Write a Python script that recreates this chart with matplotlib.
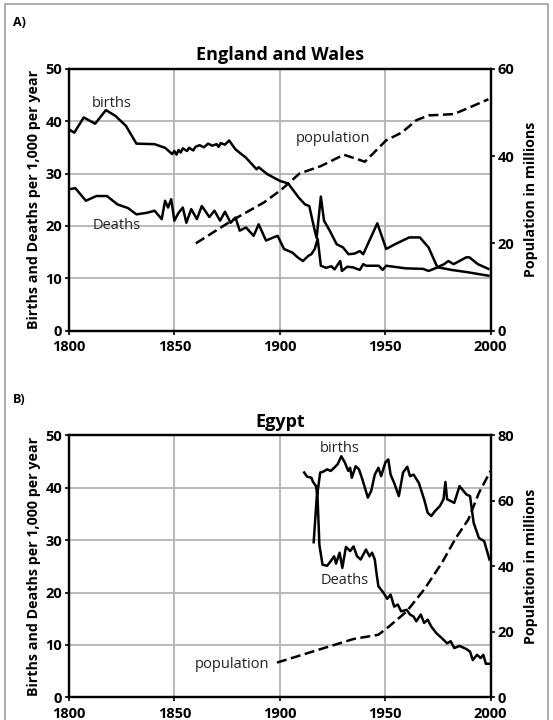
import matplotlib
matplotlib.use("Agg")
import matplotlib.pyplot as plt
from matplotlib.patches import Rectangle

plt.rcParams["font.family"] = ["Open Sans", "DejaVu Sans"]

# England and Wales
ew_birth_years = [1800, 1802.5, 1807, 1812.4, 1817.5, 1822, 1827, 1832, 1840.6, 1845.6,
                  1849, 1850, 1851, 1852, 1853, 1854, 1856, 1857, 1859, 1860, 1862, 1864,
                  1866, 1868, 1870, 1871, 1872, 1874, 1876, 1879, 1884, 1889, 1890, 1894,
                  1900, 1904, 1909, 1912, 1914, 1916.6, 1917.5, 1919.5, 1921, 1923.7, 1927,
                  1930, 1932.6, 1935.4, 1938, 1939.6, 1946.3, 1950.5, 1954.7, 1961.4, 1966.5,
                  1970.6, 1974.8, 1978, 1980, 1982.5, 1988.5, 1990, 1994, 1999]
ew_births = [38.4, 37.8, 40.7, 39.5, 42.1, 41.0, 39.1, 35.7, 35.6, 34.9,
             33.7, 34.3, 33.6, 34.5, 34.0, 34.8, 34.3, 34.9, 34.4, 35.1, 35.4, 35.0,
             35.7, 35.3, 35.6, 35.1, 35.8, 35.5, 36.3, 34.6, 33.0, 30.8, 31.2, 29.9,
             28.6, 28.1, 25.4, 24.1, 23.8, 19.1, 17.7, 25.6, 21.0, 19.1, 16.5,
             15.9, 14.6, 14.7, 15.2, 14.6, 20.5, 15.6, 16.5, 17.8, 17.8,
             15.9, 12.1, 12.7, 13.3, 12.7, 14.0, 14.0, 12.7, 11.8]

ew_death_years = [1800, 1803, 1808, 1813, 1818, 1823, 1828, 1832, 1837, 1840.6, 1844,
                  1845.6, 1847, 1848.5, 1850, 1852, 1854, 1855.7, 1858, 1860.7, 1863,
                  1866.6, 1869, 1871.7, 1874, 1876.7, 1879, 1881, 1884, 1887.6, 1890,
                  1893.5, 1897, 1899, 1902, 1906, 1908.5, 1911, 1913.6, 1915, 1916.6,
                  1918, 1919.5, 1922, 1924.5, 1926, 1928.7, 1929.5, 1932, 1934.6, 1938,
                  1939.6, 1941, 1947, 1948.8, 1950.5, 1959.7, 1968, 1970.6, 1975, 1981.5,
                  1988.5, 1999]
ew_deaths = [27.0, 27.2, 24.8, 25.7, 25.7, 24.1, 23.4, 22.2, 22.5, 22.9, 21.3,
             24.8, 23.5, 25.1, 21.0, 22.5, 23.5, 20.6, 23.2, 21.3, 23.8,
             21.7, 22.9, 21.0, 22.7, 20.6, 21.6, 19.1, 19.7, 18.1, 20.3,
             17.2, 17.8, 18.1, 15.6, 14.9, 14.0, 13.3, 14.3, 14.6, 15.6,
             17.5, 12.4, 12.0, 12.3, 11.7, 13.3, 11.4, 12.2, 12.1, 11.6,
             12.7, 12.4, 12.4, 11.6, 12.4, 11.9, 11.8, 11.4, 12.1, 11.6,
             11.2, 10.5]

ew_pop_years = [1860.2, 1877.5, 1892.6, 1901, 1909.4, 1919.5, 1930.4, 1940.4, 1950.5,
                1958, 1964.8, 1970.6, 1982.5, 1989, 1999]
ew_pop = [20.0, 25.3, 29.4, 32.4, 36.0, 37.7, 40.3, 38.7, 43.6,
          45.4, 48.2, 49.3, 49.6, 50.9, 53.0]

# Egypt
eg_birth_years = [1911.6, 1913, 1915, 1915.8, 1917.2, 1917.8, 1919.2, 1920.3, 1922.5,
                  1924.2, 1925.8, 1927.5, 1929.2, 1930.9, 1932.5, 1933.4, 1934.2, 1936,
                  1937.6, 1939.2, 1941.8, 1943.4, 1945.1, 1946.8, 1948.1, 1950.1, 1951.5,
                  1952.6, 1954.3, 1956.5, 1958.5, 1960.5, 1961.8, 1963.5, 1966, 1968.5,
                  1970.2, 1971.9, 1973.6, 1976, 1977.7, 1978.6, 1979.4, 1982.8, 1985.3,
                  1988.6, 1990.3, 1992, 1994.5, 1997, 1999.5]
eg_births = [42.9, 42.1, 41.9, 41.1, 40.3, 38.7, 42.9, 43.0, 43.5,
             43.2, 43.8, 44.5, 46.0, 44.8, 43.2, 43.8, 41.9, 44.1,
             43.5, 41.6, 38.1, 39.4, 42.5, 43.8, 42.2, 44.8, 45.4,
             42.5, 40.9, 38.4, 42.9, 44.0, 42.2, 42.5, 40.9, 37.8,
             35.2, 34.6, 35.5, 36.5, 37.8, 41.1, 37.8, 37.1, 40.3,
             38.7, 38.4, 33.3, 30.4, 29.8, 26.3]

eg_death_years = [1916.1, 1917.8, 1918.8, 1920.3, 1922.5, 1924.2, 1925.8, 1926.7, 1928.4,
                  1929.7, 1931.4, 1933.4, 1935, 1936.7, 1938.4, 1940.9, 1942.6, 1943.8,
                  1945.1, 1945.9, 1946.8, 1949.3, 1951, 1952.6, 1954.3, 1956, 1957.6,
                  1960.2, 1961.8, 1963.5, 1964.8, 1966.9, 1968.5, 1970.2, 1971.9, 1974.4,
                  1976.9, 1979.4, 1981.1, 1982.8, 1985.3, 1988.6, 1990.3, 1991.6, 1993.6,
                  1995.3, 1996.6, 1997.8, 1999.5]
eg_deaths = [29.6, 39.7, 29.1, 25.3, 25.1, 26.0, 26.9, 25.5, 27.6,
             24.7, 28.7, 27.9, 28.8, 26.9, 26.3, 28.2, 26.9, 27.6,
             26.3, 23.7, 21.2, 19.9, 18.8, 19.6, 17.3, 17.7, 16.4,
             16.7, 15.8, 15.4, 14.5, 15.8, 14.2, 14.8, 13.5, 12.2,
             11.3, 10.3, 10.7, 9.4, 9.8, 9.2, 8.7, 7.1, 8.1,
             7.5, 8.1, 6.4, 6.4]

eg_pop_years = [1898.7, 1918.3, 1935, 1946.8, 1951.8, 1960.2, 1968.5, 1976.9, 1983.6,
                1989.5, 1994.5, 2000]
eg_pop = [10.6, 14.5, 17.8, 19.1, 21.6, 26.2, 32.9, 41.0, 48.7, 54.3, 62.4, 69.1]

ylabel_left = "Births and Deaths per 1,000 per year"
ylabel_right = "Population in millions"

fig = plt.figure(figsize=(5.53, 7.2), dpi=100)

# light grey frame around the page
fig.patches.append(Rectangle((5 / 553, -0.05), 543 / 553, 1.05 - 4 / 720,
                             transform=fig.transFigure, fill=False,
                             edgecolor="#a0a0a0", linewidth=1.2))


def panel(rect, title, letter, letter_y, by, b, dy, d, py, p, pmax, labels):
    ax = fig.add_axes(rect)
    ax.set_xlim(1800, 2000)
    ax.set_ylim(0, 50)
    ax.set_xticks([1800, 1850, 1900, 1950, 2000])
    ax.set_yticks([0, 10, 20, 30, 40, 50])
    ax.grid(True, color="#b4b4b4", linewidth=1.3)
    ax.set_axisbelow(True)
    ax.plot(by, b, color="black", linewidth=1.8)
    ax.plot(dy, d, color="black", linewidth=1.8)
    for s in ax.spines.values():
        s.set_linewidth(1.6)
    ax.tick_params(direction="out", length=3, width=1.2, labelsize=10.5, pad=2)
    ax.tick_params(axis="x", pad=4)
    for t in ax.get_xticklabels() + ax.get_yticklabels():
        t.set_fontweight("bold")
    ax.set_ylabel(ylabel_left, fontsize=10.3, fontweight="bold", labelpad=3)
    ax.set_title(title, fontsize=13, fontweight="bold", pad=6)

    ax2 = ax.twinx()
    ax2.set_ylim(0, pmax)
    ax2.set_yticks(range(0, pmax + 1, 20))
    ax2.plot(py, p, color="black", linewidth=1.8, linestyle=(0, (4, 1.8)))
    ax2.tick_params(direction="out", length=3, width=1.2, labelsize=10.5, pad=2)
    for t in ax2.get_yticklabels():
        t.set_fontweight("bold")
    ax2.set_ylabel(ylabel_right, fontsize=10.3, fontweight="bold", labelpad=7)
    for s in ax2.spines.values():
        s.set_linewidth(1.6)

    for txt, x, y, ha in labels:
        ax.text(x, y, txt, fontsize=10.5, ha=ha, va="center", color="#222222")

    fig.text(13 / 553, letter_y, letter, fontsize=9, fontweight="bold")
    return ax


panel([69 / 553, 1 - 330.7 / 720, 421.5 / 553, 262 / 720], "England and Wales", "A)",
      1 - 26 / 720, ew_birth_years, ew_births, ew_death_years, ew_deaths,
      ew_pop_years, ew_pop, 60,
      [("births", 1811, 43.3, "left"), ("Deaths", 1811, 20.1, "left"),
       ("population", 1907.4, 36.7, "left")])

panel([69 / 553, 1 - 697.3 / 720, 421.5 / 553, 262 / 720], "Egypt", "B)",
      1 - 403 / 720, eg_birth_years, eg_births, eg_death_years, eg_deaths,
      eg_pop_years, eg_pop, 80,
      [("births", 1919.2, 47.5, "left"), ("Deaths", 1919.2, 22.3, "left"),
       ("population", 1894.9, 6.3, "right")])

fig.savefig("out.png", dpi=100)
